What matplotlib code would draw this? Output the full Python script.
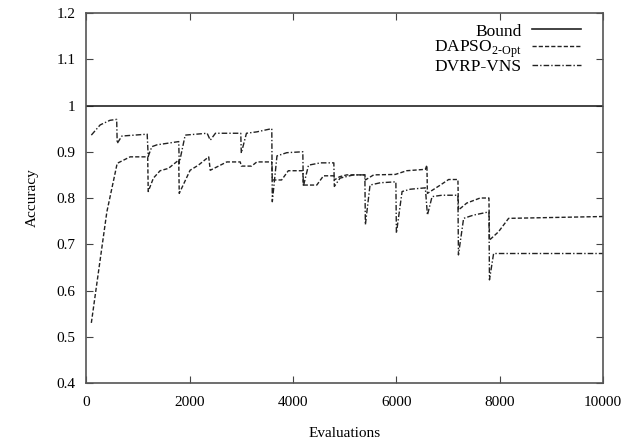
import matplotlib
matplotlib.use("Agg")
import matplotlib.pyplot as plt

plt.rcParams["font.family"] = ["Liberation Serif", "DejaVu Serif"]
plt.rcParams["mathtext.fontset"] = "custom"
plt.rcParams["mathtext.rm"] = "Liberation Serif"

# series
bound_x = [0, 10000]
bound_y = [1.0, 1.0]

dapso_x = [100, 400, 600, 850, 1190, 1200, 1300, 1430, 1590, 1790,
           1800, 2010, 2170, 2370, 2400, 2720, 2980, 3000, 3200, 3300,
           3590, 3600, 3780, 3910, 4190, 4200, 4460, 4590, 4790, 4800,
           4900, 5040, 5390, 5400, 5560, 5980, 6200, 6560, 6590, 6600,
           6850, 7010, 7190, 7200, 7360, 7620, 7790, 7800, 7975, 8170,
           10000]
dapso_y = [0.53, 0.77, 0.875, 0.889, 0.889, 0.814, 0.843, 0.859, 0.864, 0.882,
           0.81, 0.86, 0.871, 0.889, 0.86, 0.878, 0.878, 0.869, 0.869, 0.878,
           0.878, 0.839, 0.839, 0.859, 0.859, 0.828, 0.828, 0.848, 0.848, 0.839,
           0.846, 0.85, 0.85, 0.839, 0.85, 0.851, 0.859, 0.862, 0.871, 0.81,
           0.828, 0.84, 0.84, 0.774, 0.789, 0.8, 0.8, 0.709, 0.727, 0.756,
           0.76]

dvrp_x = [100, 270, 460, 590, 600, 690, 1180, 1200, 1270, 1370,
          1790, 1800, 1915, 2340, 2400, 2500, 2990, 3000, 3100, 3300,
          3590, 3600, 3690, 3880, 4190, 4200, 4300, 4530, 4790, 4800,
          4910, 5170, 5390, 5400, 5490, 5690, 5990, 6000, 6110, 6270,
          6560, 6600, 6690, 6880, 7190, 7200, 7300, 7490, 7790, 7800,
          7880, 10000]
dvrp_y = [0.936, 0.958, 0.968, 0.97, 0.918, 0.934, 0.938, 0.89, 0.911, 0.915,
          0.922, 0.875, 0.936, 0.94, 0.925, 0.94, 0.94, 0.897, 0.94, 0.943,
          0.95, 0.792, 0.891, 0.898, 0.9, 0.825, 0.871, 0.876, 0.876, 0.825,
          0.843, 0.85, 0.85, 0.742, 0.828, 0.833, 0.835, 0.724, 0.814, 0.819,
          0.822, 0.763, 0.803, 0.806, 0.806, 0.677, 0.756, 0.763, 0.77, 0.623,
          0.68, 0.68]

x_ticks = [0, 2000, 4000, 6000, 8000, 10000]
y_ticks = [0.4, 0.5, 0.6, 0.7, 0.8, 0.9, 1.0, 1.1, 1.2]
y_labels = ["0.4", "0.5", "0.6", "0.7", "0.8", "0.9", "1", "1.1", "1.2"]

fig = plt.figure(figsize=(6.29, 4.41), dpi=100)
ax = fig.add_axes([0.137, 0.1315, 0.822, 0.839])

ax.plot(bound_x, bound_y, color="#222222", lw=1.2, label="Bound")
ax.plot(dapso_x, dapso_y, color="#222222", lw=1.0, dashes=(3, 1.5),
        label=r"DAPSO$_{\mathrm{2\text{-}Opt}}$")
ax.plot(dvrp_x, dvrp_y, color="#222222", lw=1.0, dashes=(4, 1.5, 1, 1.5),
        label="DVRP-VNS")

ax.set_xlim(0, 10000)
ax.set_ylim(0.4, 1.2)
ax.set_xticks(x_ticks)
ax.set_yticks(y_ticks)
ax.set_yticklabels(y_labels)
ax.tick_params(direction="in", top=True, right=True, length=5,
               labelsize=11, color="#444444")
ax.tick_params(axis="x", pad=9.5)
ax.tick_params(axis="y", pad=7.5)
for s in ax.spines.values():
    s.set_color("#555555")
    s.set_linewidth(1.2)

ax.set_xlabel("Evaluations", fontsize=11, labelpad=13)
ax.set_ylabel("Accuracy", fontsize=11, labelpad=13)

leg = ax.legend(loc="upper right", bbox_to_anchor=(0.957, 0.972),
                frameon=False, markerfirst=False,
                fontsize=12.5, handlelength=2.8, labelspacing=-0.04,
                borderaxespad=0, borderpad=0, handletextpad=0.6)
leg._legend_box.get_children()[1].get_children()[0].align = "right"

fig.savefig("out.png", dpi=100)
